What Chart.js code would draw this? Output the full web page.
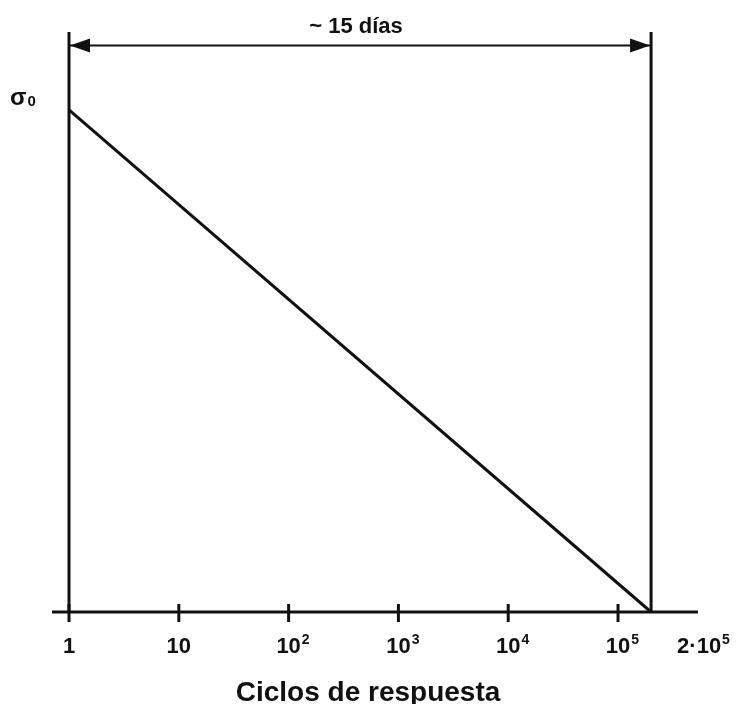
<!DOCTYPE html>
<html>
<head>
<meta charset="utf-8">
<script src="https://cdn.jsdelivr.net/npm/chart.js@4/dist/chart.umd.min.js"></script>
<style>
  body { margin: 0; background: #fff; }
  #wrap { width: 736px; height: 704px; }
</style>
</head>
<body>
<div id="wrap"><canvas id="chart" width="736" height="704"></canvas></div>
<script>
// datos del gráfico
var cycleTicks = [1, 10, 100, 1000, 10000, 100000];
var tickBase = ['1', '10', '10', '10', '10', '10'];
var tickExp = ['', '', '2', '3', '4', '5'];
var endCycles = 200000;
var endBase = '2\u00b710';
var endExp = '5';
var curveCycles = [1, 200000];
var curveStress = [1, 0];      // σ0 -> 0
var xRange = [0.7, 535000];
var yRange = [0, 1.155];
var arrowLevel = 1.128;
var spanLabel = '~ 15 días';
var axisTitle = 'Ciclos de respuesta';
var stressLabel = '\u03c3';
var stressSub = '0';

var INK = '#111';
var FONT = '"Liberation Sans", Arial, sans-serif';

function seg(x1, y1, x2, y2) {
    return [{ x: x1, y: y1 }, { x: x2, y: y2 }];
}

function lineSet(data, width) {
    return {
        data: data,
        borderColor: INK,
        borderWidth: width,
        pointRadius: 0,
        fill: false,
        clip: false
    };
}

// texto con exponente (10², 10³ ...)
function drawPower(ctx, base, exp, x, y, align) {
    ctx.font = 'bold 22px ' + FONT;
    var wb = ctx.measureText(base).width;
    var left = align === 'left' ? x : x - wb / 2;
    ctx.textAlign = 'left';
    ctx.textBaseline = 'alphabetic';
    ctx.fillText(base, left, y);
    if (exp) {
        ctx.font = 'bold 14px ' + FONT;
        ctx.fillText(exp, left + wb + 1, y - 9);
    }
}

var decorations = {
    id: 'decorations',
    afterDatasetsDraw: function (chart) {
        var ctx = chart.ctx;
        var xs = chart.scales.x, ys = chart.scales.y;
        var y0 = ys.getPixelForValue(0);
        ctx.save();
        ctx.fillStyle = INK;
        ctx.strokeStyle = INK;

        // marcas del eje
        ctx.lineWidth = 3;
        cycleTicks.forEach(function (v) {
            var px = xs.getPixelForValue(v);
            ctx.beginPath();
            ctx.moveTo(px, y0 - 8);
            ctx.lineTo(px, y0 + 10);
            ctx.stroke();
        });

        // etiquetas
        cycleTicks.forEach(function (v, i) {
            drawPower(ctx, tickBase[i], tickExp[i], xs.getPixelForValue(v), 653, 'center');
        });
        drawPower(ctx, endBase, endExp, xs.getPixelForValue(endCycles) + 26, 653, 'left');

        // flechas de la cota superior
        var ya = ys.getPixelForValue(arrowLevel);
        var xa = xs.getPixelForValue(1), xb = xs.getPixelForValue(endCycles);
        ctx.beginPath();
        ctx.moveTo(xa + 1, ya);
        ctx.lineTo(xa + 21, ya - 7);
        ctx.lineTo(xa + 21, ya + 7);
        ctx.closePath();
        ctx.fill();
        ctx.beginPath();
        ctx.moveTo(xb - 1, ya);
        ctx.lineTo(xb - 21, ya - 7);
        ctx.lineTo(xb - 21, ya + 7);
        ctx.closePath();
        ctx.fill();

        ctx.font = 'bold 22px ' + FONT;
        ctx.textAlign = 'center';
        ctx.fillText(spanLabel, (xa + xb) / 2 - 4, 33);

        ctx.font = 'bold 28px ' + FONT;
        ctx.fillText(axisTitle, chart.width / 2, 701);

        // σ0
        ctx.textAlign = 'left';
        ctx.font = 'bold 24px ' + FONT;
        ctx.fillText(stressLabel, 10, 105);
        var ws = ctx.measureText(stressLabel).width;
        ctx.font = 'bold 15px ' + FONT;
        ctx.fillText(stressSub, 10 + ws + 1, 106);

        ctx.restore();
    }
};

new Chart(document.getElementById('chart'), {
    type: 'line',
    data: {
        datasets: [
            lineSet(curveCycles.map(function (c, i) { return { x: c, y: curveStress[i] }; }), 3),
            lineSet(seg(1, 0, 1, yRange[1]), 3),
            lineSet(seg(endCycles, 0, endCycles, yRange[1]), 3),
            lineSet(seg(xRange[0], 0, xRange[1], 0), 3),
            lineSet(seg(1, arrowLevel, endCycles, arrowLevel), 2)
        ]
    },
    options: {
        responsive: false,
        animation: false,
        layout: { padding: { left: 52, right: 38, top: 32, bottom: 92 } },
        plugins: { legend: { display: false }, tooltip: { enabled: false } },
        scales: {
            x: { type: 'logarithmic', min: xRange[0], max: xRange[1], display: false },
            y: { type: 'linear', min: yRange[0], max: yRange[1], display: false }
        }
    },
    plugins: [decorations]
});
</script>
</body>
</html>
